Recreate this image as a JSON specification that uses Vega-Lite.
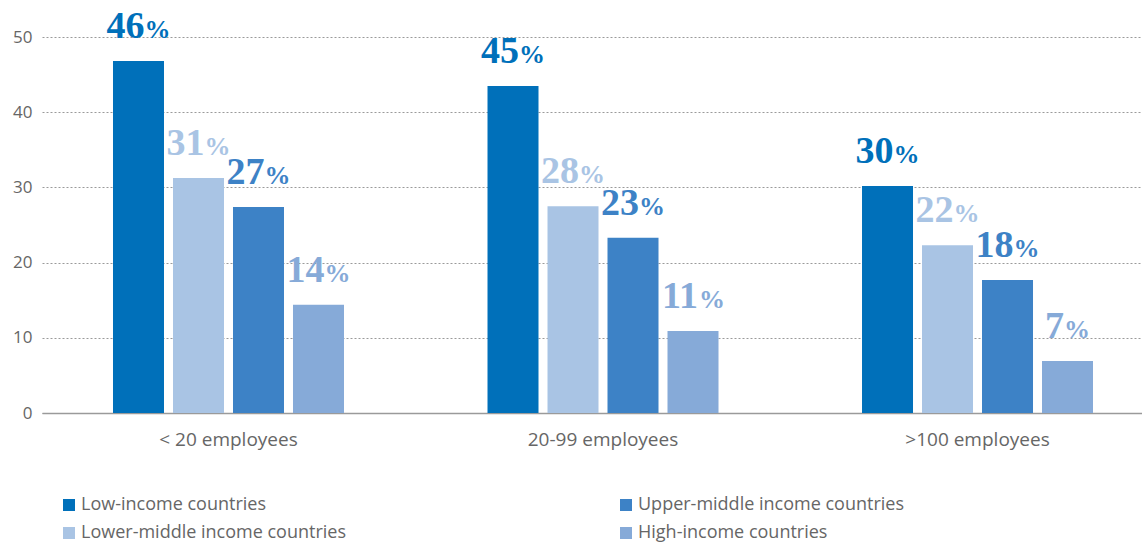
{
  "$schema": "https://vega.github.io/schema/vega-lite/v6.json",
  "width": 1100,
  "height": 376,
  "autosize": {"type": "none"},
  "padding": {"left": 42, "top": 37, "right": 0, "bottom": 130},
  "background": "white",
  "config": {"view": {"stroke": null}, "font": "Open Sans"},
  "data": {
    "values": [
      {"size": "< 20 employees", "group": "Low-income countries", "value": 46.8, "label": 46},
      {"size": "< 20 employees", "group": "Lower-middle income countries", "value": 31.25, "label": 31},
      {"size": "< 20 employees", "group": "Upper-middle income countries", "value": 27.4, "label": 27},
      {"size": "< 20 employees", "group": "High-income countries", "value": 14.4, "label": 14},
      {"size": "20-99 employees", "group": "Low-income countries", "value": 43.5, "label": 45},
      {"size": "20-99 employees", "group": "Lower-middle income countries", "value": 27.5, "label": 28},
      {"size": "20-99 employees", "group": "Upper-middle income countries", "value": 23.3, "label": 23},
      {"size": "20-99 employees", "group": "High-income countries", "value": 10.9, "label": 11},
      {"size": ">100 employees", "group": "Low-income countries", "value": 30.2, "label": 30},
      {"size": ">100 employees", "group": "Lower-middle income countries", "value": 22.3, "label": 22},
      {"size": ">100 employees", "group": "Upper-middle income countries", "value": 17.7, "label": 18},
      {"size": ">100 employees", "group": "High-income countries", "value": 6.9, "label": 7}
    ]
  },
  "encoding": {
    "x": {
      "field": "size", "type": "nominal",
      "sort": ["< 20 employees", "20-99 employees", ">100 employees"],
      "scale": {"paddingInner": 0.3832, "paddingOuter": 0.1602, "align": 0.5917},
      "axis": {
        "title": null, "labelAngle": 0, "ticks": false,
        "domain": true, "domainColor": "#9a9a9a", "domainWidth": 1.5,
        "labelFont": "Open Sans", "labelFontSize": 19, "labelColor": "#666666", "labelPadding": 17, "labelLimit": 400
      }
    },
    "xOffset": {
      "field": "group", "type": "nominal",
      "scale": {
        "domain": ["Low-income countries", "Lower-middle income countries", "Upper-middle income countries", "High-income countries"],
        "paddingInner": 0.15, "paddingOuter": 0
      }
    },
    "y": {
      "field": "value", "type": "quantitative",
      "scale": {"domain": [0, 50], "nice": false},
      "axis": {
        "title": null, "values": [0, 10, 20, 30, 40, 50],
        "domain": false, "ticks": false, "grid": true,
        "gridDash": [2, 2], "gridColor": "#9a9a9a", "gridWidth": 1,
        "labelFont": "Open Sans", "labelFontSize": 17, "labelColor": "#666666", "labelPadding": 10
      }
    },
    "color": {
      "field": "group", "type": "nominal",
      "scale": {
        "domain": ["Low-income countries", "Lower-middle income countries", "Upper-middle income countries", "High-income countries"],
        "range": ["#0070BA", "#A9C4E4", "#3D82C6", "#86AAD8"]
      },
      "legend": {
        "title": null, "orient": "none", "legendX": 18, "legendY": 459,
        "columns": 2, "columnPadding": 271, "rowPadding": 10,
        "symbolType": "square", "symbolSize": 144, "symbolStrokeWidth": 0, "symbolOpacity": 1,
        "labelFont": "Open Sans", "labelFontSize": 18, "labelColor": "#666666", "labelOffset": 3, "labelLimit": 500
      }
    }
  },
  "layer": [
    {"mark": {"type": "bar", "opacity": 1}},
    {
      "mark": {"type": "text", "font": "Liberation Serif", "fontWeight": "bold", "fontSize": 38, "baseline": "alphabetic", "align": "center", "dx": -13, "dy": -23},
      "encoding": {"text": {"field": "label", "type": "quantitative", "format": "d"}}
    },
    {
      "transform": [{"filter": "datum.label >= 10"}],
      "mark": {"type": "text", "font": "Liberation Serif", "fontWeight": "bold", "fontSize": 26, "baseline": "alphabetic", "align": "left", "dx": 6, "dy": -23},
      "encoding": {"text": {"value": "%"}}
    },
    {
      "transform": [{"filter": "datum.label < 10"}],
      "mark": {"type": "text", "font": "Liberation Serif", "fontWeight": "bold", "fontSize": 26, "baseline": "alphabetic", "align": "left", "dx": -3.5, "dy": -23},
      "encoding": {"text": {"value": "%"}}
    }
  ]
}
